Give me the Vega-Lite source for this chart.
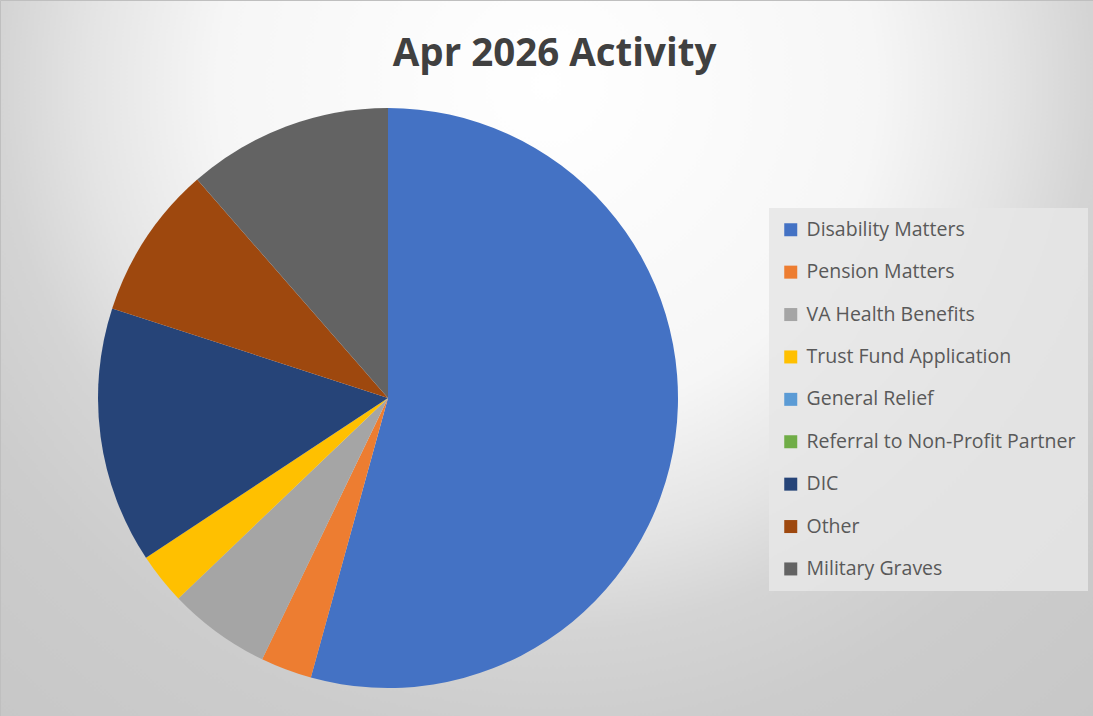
{
  "$schema": "https://vega.github.io/schema/vega-lite/v6.json",
  "width": 1093,
  "height": 716,
  "autosize": {"type": "fit", "contains": "padding"},
  "padding": 0,
  "background": "#d0d0d0",
  "view": {
    "fill": {
      "gradient": "radial",
      "x1": 0.5, "y1": 0.25, "r1": 0,
      "x2": 0.5, "y2": 0.25, "r2": 0.8,
      "stops": [
        {"offset": 0, "color": "#ffffff"},
        {"offset": 0.375, "color": "#f6f6f6"},
        {"offset": 0.525, "color": "#e4e4e4"},
        {"offset": 0.625, "color": "#d4d4d4"},
        {"offset": 0.75, "color": "#cccccc"},
        {"offset": 1, "color": "#c6c6c6"}
      ]
    },
    "stroke": "#bfbfbf"
  },
  "title": {
    "text": "Apr 2026 Activity",
    "font": "Open Sans",
    "fontSize": 38.5,
    "fontWeight": "bold",
    "color": "#404040",
    "anchor": "middle",
    "frame": "group",
    "offset": -74,
    "dx": 8
  },
  "data": {
    "values": [
      {"category": "Disability Matters", "count": 19, "order": 1},
      {"category": "Pension Matters", "count": 1, "order": 2},
      {"category": "VA Health Benefits", "count": 2, "order": 3},
      {"category": "Trust Fund Application", "count": 1, "order": 4},
      {"category": "General Relief", "count": 0, "order": 5},
      {"category": "Referral to Non-Profit Partner", "count": 0, "order": 6},
      {"category": "DIC", "count": 5, "order": 7},
      {"category": "Other", "count": 3, "order": 8},
      {"category": "Military Graves", "count": 4, "order": 9}
    ]
  },
  "mark": {"type": "arc", "x": 388, "y": 398, "outerRadius": 290},
  "encoding": {
    "theta": {"field": "count", "type": "quantitative", "stack": true},
    "order": {"field": "order", "type": "quantitative", "sort": "ascending"},
    "color": {
      "field": "category",
      "type": "nominal",
      "scale": {
        "domain": ["Disability Matters", "Pension Matters", "VA Health Benefits", "Trust Fund Application", "General Relief", "Referral to Non-Profit Partner", "DIC", "Other", "Military Graves"],
        "range": ["#4472C4", "#ED7D31", "#A5A5A5", "#FFC000", "#5B9BD5", "#70AD47", "#264478", "#9E480E", "#636363"]
      },
      "legend": {
        "title": null,
        "orient": "none",
        "legendX": 769,
        "legendY": 208,
        "fillColor": "rgba(230,230,230,0.85)",
        "padding": 12,
        "symbolType": "square",
        "symbolSize": 169,
        "symbolStrokeWidth": 0,
        "labelFont": "Open Sans",
        "labelFontSize": 19.5,
        "labelColor": "#595959",
        "labelOffset": 6,
        "labelLimit": 400,
        "rowPadding": 21.4
      }
    }
  }
}
